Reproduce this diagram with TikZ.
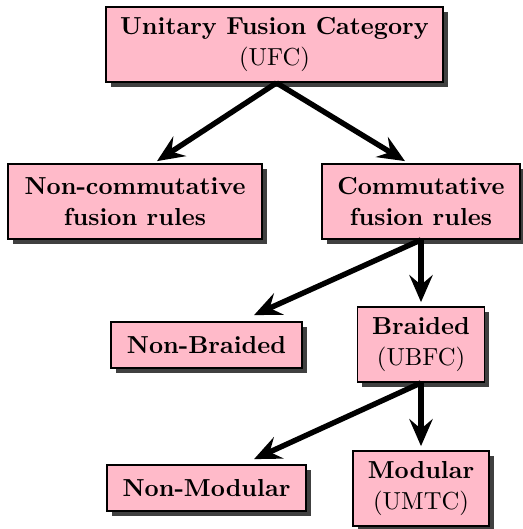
\documentclass[tikz,border=0pt]{standalone}
\usetikzlibrary{shadows,arrows.meta,calc}
\definecolor{boxpink}{RGB}{255,186,201}
\definecolor{shadowgray}{RGB}{64,64,64}
\begin{document}
\begin{tikzpicture}[x=0.4065pt,y=-0.4065pt,
  box/.style={draw=black, line width=0.7pt, fill=boxpink, align=center, inner sep=0pt,
    font=\bfseries\linespread{1.05}\selectfont, minimum height=30.5pt,
    drop shadow={shadow xshift=2pt, shadow yshift=-2pt, fill=shadowgray, opacity=1}},
  flowarrow/.style={line width=2.2pt, -{Stealth[length=11pt,width=9.5pt,inset=4pt]}}]
\useasboundingbox (0,0) rectangle (522,529);
\node[box, minimum width=137pt] (ufc) at (274.5,44.5) {Unitary Fusion Category\\\mdseries(UFC)};
\node[box, minimum width=103.3pt] (noncomm) at (135,201.5) {Non-commutative\\fusion rules};
\node[box, minimum width=80.5pt] (comm) at (421,201.5) {Commutative\\fusion rules};
\node[box, minimum width=77.6pt, minimum height=18.7pt] (nonbraided) at (206.5,345) {Non-Braided};
\node[box, minimum width=51.6pt] (braided) at (421,344.5) {Braided\\\mdseries(UBFC)};
\node[box, minimum width=80.9pt, minimum height=18.7pt] (nonmodular) at (206.5,488) {Non-Modular};
\node[box, minimum width=55.3pt] (modular) at (421,488.5) {Modular\\\mdseries(UMTC)};
\draw[flowarrow] ($(ufc.south)+(2,0)$) -- ($(noncomm.north)+(22,-2)$);
\draw[flowarrow] ($(ufc.south)+(2,0)$) -- ($(comm.north)+(-16,-2)$);
\draw[flowarrow] (comm.south) -- ($(nonbraided.north)+(47.5,-6)$);
\draw[flowarrow] (comm.south) -- ($(braided.north)+(0,-4)$);
\draw[flowarrow] (braided.south) -- ($(nonmodular.north)+(47.5,-5)$);
\draw[flowarrow] (braided.south) -- ($(modular.north)+(0,-4)$);
\end{tikzpicture}
\end{document}
